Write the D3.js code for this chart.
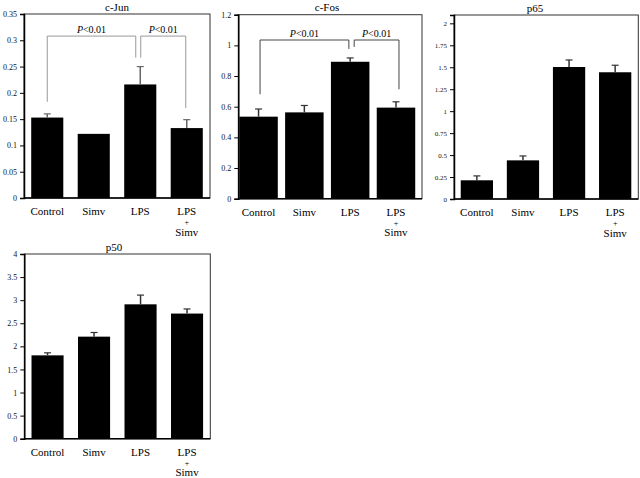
<!DOCTYPE html>
<html>
<head>
<meta charset="utf-8">
<script src="https://cdn.jsdelivr.net/npm/d3@7"></script>
<style>
  body { margin: 0; background: #fff; }
  text { font-family: "Liberation Serif", "Times New Roman", serif; fill: #000; }
</style>
</head>
<body>
<div id="chart"></div>
<script>
var groups = ["Control", "Simv", "LPS", "LPS+Simv"];

var cjunVals = [0.153, 0.122, 0.216, 0.133];
var cjunErr  = [0.007, 0, 0.034, 0.016];
var cfosVals = [0.535, 0.563, 0.893, 0.594];
var cfosErr  = [0.05, 0.045, 0.025, 0.038];
var p65Vals  = [0.213, 0.44, 1.503, 1.443];
var p65Err   = [0.05, 0.05, 0.08, 0.08];
var p50Vals  = [1.805, 2.21, 2.91, 2.71];
var p50Err   = [0.055, 0.09, 0.2, 0.1];

var cjunTicks = [0, 0.05, 0.1, 0.15, 0.2, 0.25, 0.3, 0.35];
var cfosTicks = [0, 0.2, 0.4, 0.6, 0.8, 1, 1.2];
var p65Ticks  = [0, 0.25, 0.5, 0.75, 1, 1.25, 1.5, 1.75, 2];
var p50Ticks  = [0, 0.5, 1, 1.5, 2, 2.5, 3, 3.5, 4];

// brackets: [from, to, left leg bottom, top, right leg bottom, label]
var cjunBrackets = [[0, 2, 0.183, 0.308, 0.267, "<0.01"], [2, 3, 0.267, 0.308, 0.171, "<0.01"]];
var cfosBrackets = [[0, 2, 0.681, 1.035, 0.977, "<0.01"], [2, 3, 0.99, 1.035, 0.714, "<0.01"]];

var svg = d3.select("#chart").append("svg")
  .attr("width", 640)
  .attr("height", 478);

function panel(o) {
  var x = d3.scaleBand()
    .domain(groups)
    .range([o.left, o.right])
    .paddingInner(o.pin)
    .paddingOuter(o.pout)
    .align(o.align);

  var y = d3.scaleLinear()
    .domain([0, o.max])
    .range([o.bottom, o.top]);

  var g = svg.append("g");

  // frame
  g.append("rect")
    .attr("x", o.left).attr("y", o.top)
    .attr("width", o.right - o.left).attr("height", o.bottom - o.top)
    .attr("fill", "none").attr("stroke", "#333").attr("stroke-width", 1);

  g.selectAll("rect.bar")
    .data(o.vals)
    .enter().append("rect")
    .attr("class", "bar")
    .attr("x", function(d, i) { return x(groups[i]); })
    .attr("width", x.bandwidth())
    .attr("y", function(d) { return y(d); })
    .attr("height", function(d) { return y(0) - y(d); })
    .attr("fill", "#000");

  // error bars
  var eb = g.selectAll("g.err")
    .data(o.vals)
    .enter().append("g")
    .attr("class", "err");
  eb.append("line")
    .attr("x1", function(d, i) { return x(groups[i]) + x.bandwidth() / 2; })
    .attr("x2", function(d, i) { return x(groups[i]) + x.bandwidth() / 2; })
    .attr("y1", function(d) { return y(d); })
    .attr("y2", function(d, i) { return y(d + o.err[i]); })
    .attr("stroke", o.errColor).attr("stroke-width", 1.5);
  eb.append("line")
    .attr("x1", function(d, i) { return x(groups[i]) + x.bandwidth() / 2 - 3.5; })
    .attr("x2", function(d, i) { return x(groups[i]) + x.bandwidth() / 2 + 3.5; })
    .attr("y1", function(d, i) { return y(d + o.err[i]); })
    .attr("y2", function(d, i) { return y(d + o.err[i]); })
    .attr("stroke", o.errColor).attr("stroke-width", 1.2)
    .style("display", function(d, i) { return o.err[i] > 0 ? null : "none"; });

  // y axis
  var ax = g.append("g")
    .attr("transform", "translate(" + o.left + ",0)")
    .call(d3.axisLeft(y).tickValues(o.ticks).tickSize(4).tickPadding(3)
      .tickFormat(function(d) { return String(+d.toFixed(2)); }));
  ax.select(".domain").attr("stroke", "#000").attr("stroke-width", 1.5);
  ax.selectAll(".tick line").attr("stroke", "#000");
  ax.selectAll(".tick text")
    .style("fill", "#111")
    .style("font-family", "Liberation Serif, serif")
    .style("font-size", o.tickFont + "px");

  // baseline
  g.append("line")
    .attr("x1", o.left).attr("x2", o.right)
    .attr("y1", y(0)).attr("y2", y(0))
    .attr("stroke", "#000").attr("stroke-width", 1.5);

  // title
  g.append("text")
    .attr("x", o.titleX).attr("y", o.top - 3.5)
    .attr("text-anchor", "middle")
    .style("font-size", "11px")
    .text(o.title);

  // x labels
  var lineY = [17, 27, 37.5];
  groups.forEach(function(name) {
    var cx = x(name) + x.bandwidth() / 2;
    var lines = name === "LPS+Simv" ? ["LPS", "+", "Simv"] : [name];
    lines.forEach(function(t, j) {
      g.append("text")
        .attr("x", cx)
        .attr("y", o.bottom + lineY[j])
        .attr("text-anchor", "middle")
        .style("font-size", j === 1 ? "8px" : "11px")
        .text(t);
    });
  });

  // significance brackets
  (o.brackets || []).forEach(function(b, k) {
    var x1 = x(groups[b[0]]) + x.bandwidth() / 2 + o.bOff[k][0];
    var x2 = x(groups[b[1]]) + x.bandwidth() / 2 + o.bOff[k][1];
    g.append("path")
      .attr("d", "M" + x1 + "," + y(b[2]) + "V" + y(b[3]) + "H" + x2 + "V" + y(b[4]))
      .attr("fill", "none").attr("stroke", o.bColor).attr("stroke-width", 1);
    var t = g.append("text")
      .attr("x", (x1 + x2) / 2)
      .attr("y", y(b[3]) - 3)
      .attr("text-anchor", "middle")
      .style("font-size", "10px");
    t.append("tspan").style("font-style", "italic").text("P");
    t.append("tspan").text(b[5]);
  });
}

panel({ title: "c-Jun", titleX: 117, left: 24, right: 210, top: 14, bottom: 198,
  max: 0.35, ticks: cjunTicks, vals: cjunVals, err: cjunErr,
  pin: 0.31, pout: 0.155, align: 0.5, tickFont: 8, errColor: "#666",
  brackets: cjunBrackets, bOff: [[0, -4.5], [0.5, -1]], bColor: "#999" });

panel({ title: "c-Fos", titleX: 327, left: 238.3, right: 422, top: 14.7, bottom: 198.7,
  max: 1.2, ticks: cfosTicks, vals: cfosVals, err: cfosErr,
  pin: 0.16, pout: 0.085, align: 0.13, tickFont: 8, errColor: "#333",
  brackets: cfosBrackets, bOff: [[1.5, -1.3], [4, 3]], bColor: "#444" });

panel({ title: "p65", titleX: 535, left: 454, right: 638.3, top: 15, bottom: 199,
  max: 2.095, ticks: p65Ticks, vals: p65Vals, err: p65Err,
  pin: 0.3, pout: 0.149, align: 0.49, tickFont: 7, errColor: "#333" });

panel({ title: "p50", titleX: 114, left: 24.3, right: 210.3, top: 254, bottom: 438.7,
  max: 4, ticks: p50Ticks, vals: p50Vals, err: p50Err,
  pin: 0.31, pout: 0.155, align: 0.5, tickFont: 8, errColor: "#333" });
</script>
</body>
</html>
